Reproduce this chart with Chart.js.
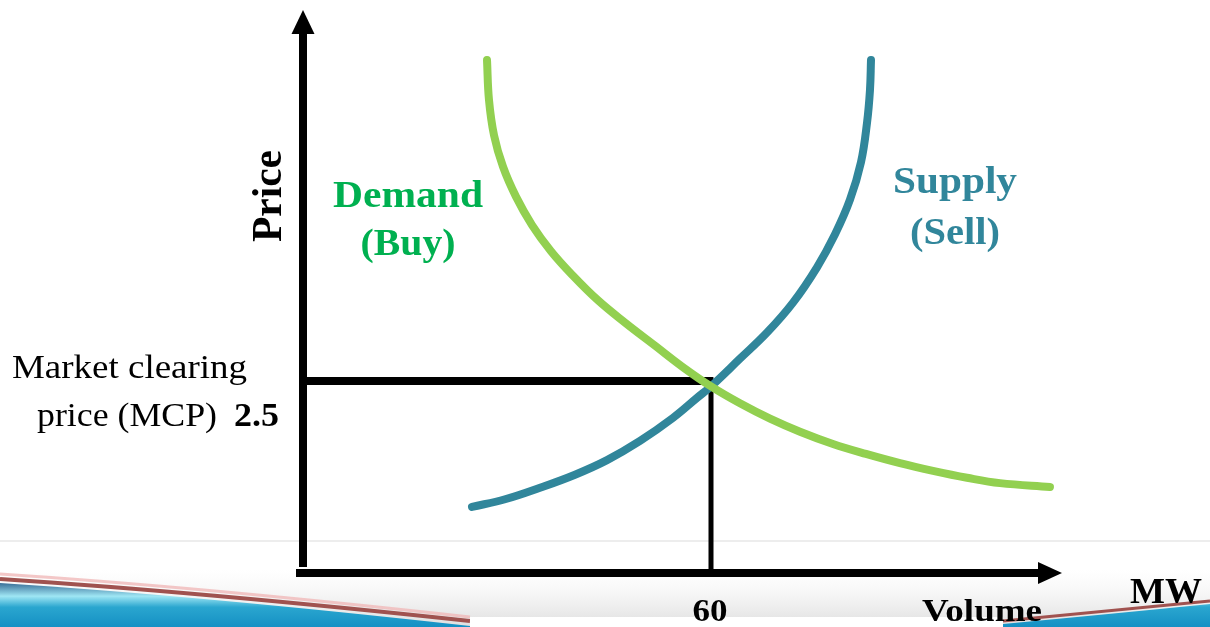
<!DOCTYPE html>
<html>
<head>
<meta charset="utf-8">
<script src="https://cdn.jsdelivr.net/npm/chart.js@4/dist/chart.umd.min.js"></script>
<style>
  html, body { margin: 0; padding: 0; background: #ffffff; }
  #wrap { width: 1210px; height: 627px; position: relative; }
</style>
</head>
<body>
<div id="wrap"><canvas id="c" width="1210" height="627"></canvas></div>
<script>
// ---- data ----
const demandX = [27.06, 27.35, 28.09, 29.41, 31.32, 33.68, 36.47, 39.71, 43.38, 47.35, 51.76, 56.03, 60.0, 64.26, 68.68, 73.09, 77.94, 82.79, 87.79, 92.65, 97.65, 102.5, 109.85];
const demandY = [6.68, 6.16, 5.70, 5.29, 4.90, 4.53, 4.19, 3.87, 3.55, 3.26, 2.96, 2.67, 2.43, 2.21, 2.01, 1.84, 1.68, 1.55, 1.43, 1.33, 1.24, 1.17, 1.12];
const supplyX = [24.85, 29.71, 34.85, 40.0, 44.71, 49.56, 54.41, 57.94, 60.0, 64.26, 68.24, 72.06, 75.59, 78.24, 80.44, 82.06, 82.94, 83.38, 83.53];
const supplyY = [0.86, 0.96, 1.11, 1.28, 1.47, 1.72, 2.02, 2.28, 2.43, 2.79, 3.13, 3.52, 3.98, 4.41, 4.86, 5.35, 5.86, 6.29, 6.68];
const mcpVolume = 60;
const mcpPrice = 2.5;
const xTickLabels = ['60'];
const yTickLabels = ['2.5'];
const xAxisTitle = 'Volume';
const xUnit = 'MW';
const yAxisTitle = 'Price';
const demandLabel = ['Demand', '(Buy)'];
const supplyLabel = ['Supply', '(Sell)'];
const mcpLabel = ['Market clearing', 'price (MCP)'];

const toPts = (xs, ys) => xs.map((x, i) => ({ x: x, y: ys[i] }));

const SERIF = '"Liberation Serif", "DejaVu Serif", serif';
const DEMAND_LINE = '#92D050';
const DEMAND_TEXT = '#00B050';
const SUPPLY = '#31869B';

function fitText(ctx, text, font, cx, base, targetW, color, align) {
  ctx.save();
  ctx.font = font;
  ctx.fillStyle = color;
  ctx.textBaseline = 'alphabetic';
  ctx.textAlign = 'left';
  const w = ctx.measureText(text).width;
  const s = targetW / w;
  let left = cx - targetW / 2;
  if (align === 'left') left = cx;
  if (align === 'right') left = cx - targetW;
  ctx.translate(left, base);
  ctx.scale(s, 1);
  ctx.fillText(text, 0, 0);
  ctx.restore();
}

const background = {
  id: 'background',
  beforeDraw(chart) {
    const ctx = chart.ctx;
    const W = chart.width, H = chart.height;
    ctx.save();
    ctx.fillStyle = '#ffffff';
    ctx.fillRect(0, 0, W, H);
    // faint separator
    ctx.fillStyle = '#ededed';
    ctx.fillRect(0, 540, W, 2);
    // gray footer gradient
    const g = ctx.createLinearGradient(0, 570, 0, 627);
    g.addColorStop(0, 'rgba(240,240,240,0)');
    g.addColorStop(1, 'rgba(222,222,222,1)');
    ctx.fillStyle = g;
    ctx.fillRect(0, 570, W, 57);
    // left blue swoosh
    const gb = ctx.createLinearGradient(0, 583, 0, 627);
    gb.addColorStop(0, '#3a6f98');
    gb.addColorStop(0.3, '#9fe6f4');
    gb.addColorStop(0.55, '#2aa6cf');
    gb.addColorStop(1, '#1590c4');
    ctx.fillStyle = gb;
    ctx.beginPath();
    ctx.moveTo(0, 583);
    ctx.quadraticCurveTo(200, 596, 470, 626);
    ctx.lineTo(470, 627);
    ctx.lineTo(0, 627);
    ctx.closePath();
    ctx.fill();
    ctx.strokeStyle = '#a0524f';
    ctx.lineWidth = 4;
    ctx.beginPath();
    ctx.moveTo(0, 579);
    ctx.quadraticCurveTo(200, 592, 470, 621);
    ctx.stroke();
    ctx.strokeStyle = 'rgba(240,185,185,0.8)';
    ctx.lineWidth = 3;
    ctx.beginPath();
    ctx.moveTo(0, 574);
    ctx.quadraticCurveTo(200, 587, 470, 617);
    ctx.stroke();
    // right swoosh
    ctx.fillStyle = gb;
    ctx.beginPath();
    ctx.moveTo(1003, 624);
    ctx.quadraticCurveTo(1110, 614, 1210, 604);
    ctx.lineTo(1210, 627);
    ctx.lineTo(1003, 627);
    ctx.closePath();
    ctx.fill();
    ctx.strokeStyle = '#a0524f';
    ctx.lineWidth = 3;
    ctx.beginPath();
    ctx.moveTo(1003, 621);
    ctx.quadraticCurveTo(1110, 611, 1210, 601);
    ctx.stroke();
    // white box at the bottom centre
    ctx.fillStyle = '#ffffff';
    ctx.fillRect(470, 617, 533, 10);
    ctx.restore();
  }
};

const axesAndText = {
  id: 'axesAndText',
  afterDatasetsDraw(chart) {
    const ctx = chart.ctx;
    const xs = chart.scales.x, ys = chart.scales.y;
    const x0 = xs.getPixelForValue(0);
    const y0 = ys.getPixelForValue(0);
    ctx.save();
    ctx.fillStyle = '#000';
    // y axis shaft + arrow
    ctx.fillRect(x0 - 4, 33, 8, y0 - 6 - 33);
    ctx.beginPath();
    ctx.moveTo(x0 - 11.5, 34);
    ctx.lineTo(x0 + 11.5, 34);
    ctx.lineTo(x0, 10);
    ctx.closePath();
    ctx.fill();
    // x axis shaft + arrow
    ctx.fillRect(x0 - 7, y0 - 4, 1040 - (x0 - 7), 8);
    ctx.beginPath();
    ctx.moveTo(1038, y0 - 11);
    ctx.lineTo(1038, y0 + 11);
    ctx.lineTo(1062, y0);
    ctx.closePath();
    ctx.fill();
    ctx.restore();

    // Y title, rotated
    ctx.save();
    ctx.translate(281, 196);
    ctx.rotate(-Math.PI / 2);
    fitText(ctx, yAxisTitle, 'bold 42px ' + SERIF, 0, 0, 92, '#000');
    ctx.restore();

    // curve labels
    fitText(ctx, demandLabel[0], 'bold 37px ' + SERIF, 408, 207, 150, DEMAND_TEXT);
    fitText(ctx, demandLabel[1], 'bold 37px ' + SERIF, 408, 255, 95, DEMAND_TEXT);
    fitText(ctx, supplyLabel[0], 'bold 38px ' + SERIF, 955, 193, 124, SUPPLY);
    fitText(ctx, supplyLabel[1], 'bold 38px ' + SERIF, 955, 244, 90, SUPPLY);

    // MCP text + tick labels
    const yMcp = ys.getPixelForValue(mcpPrice);
    const xMcp = xs.getPixelForValue(mcpVolume);
    fitText(ctx, mcpLabel[0], '33px ' + SERIF, 12, yMcp - 3, 235, '#000', 'left');
    fitText(ctx, mcpLabel[1], '33px ' + SERIF, 37, yMcp + 45, 180, '#000', 'left');
    fitText(ctx, yTickLabels[0], 'bold 33px ' + SERIF, 234, yMcp + 45, 45, '#000', 'left');
    fitText(ctx, xTickLabels[0], 'bold 32px ' + SERIF, xMcp - 1, 621, 35, '#000');
    fitText(ctx, xAxisTitle, 'bold 32px ' + SERIF, 982, 621, 120, '#000');
    fitText(ctx, xUnit, 'bold 36px ' + SERIF, 1166, 603, 72, '#000');
  }
};

new Chart(document.getElementById('c'), {
  type: 'scatter',
  data: {
    datasets: [
      {
        label: 'MCP price',
        data: [{ x: 0, y: mcpPrice }, { x: mcpVolume + 0.3, y: mcpPrice }],
        showLine: true, borderColor: '#000', borderWidth: 8, pointRadius: 0,
        tension: 0, borderCapStyle: 'butt', order: 3
      },
      {
        label: 'MCP volume',
        data: [{ x: mcpVolume, y: mcpPrice + 0.05 }, { x: mcpVolume, y: 0 }],
        showLine: true, borderColor: '#000', borderWidth: 5, pointRadius: 0,
        tension: 0, borderCapStyle: 'butt', order: 3
      },
      {
        label: 'Supply',
        data: toPts(supplyX, supplyY),
        showLine: true, borderColor: SUPPLY, borderWidth: 8, pointRadius: 0,
        tension: 0.4, borderCapStyle: 'round', borderJoinStyle: 'round', order: 2
      },
      {
        label: 'Demand',
        data: toPts(demandX, demandY),
        showLine: true, borderColor: DEMAND_LINE, borderWidth: 8, pointRadius: 0,
        tension: 0.4, borderCapStyle: 'round', borderJoinStyle: 'round', order: 1
      }
    ]
  },
  options: {
    responsive: false,
    animation: false,
    devicePixelRatio: 1,
    layout: { padding: { left: 303, right: 159, top: 20, bottom: 54 } },
    plugins: { legend: { display: false }, tooltip: { enabled: false } },
    scales: {
      x: { type: 'linear', min: 0, max: 110, display: false },
      y: { type: 'linear', min: 0, max: 7.2, display: false }
    },
    clip: false
  },
  plugins: [background, axesAndText]
});
</script>
</body>
</html>
